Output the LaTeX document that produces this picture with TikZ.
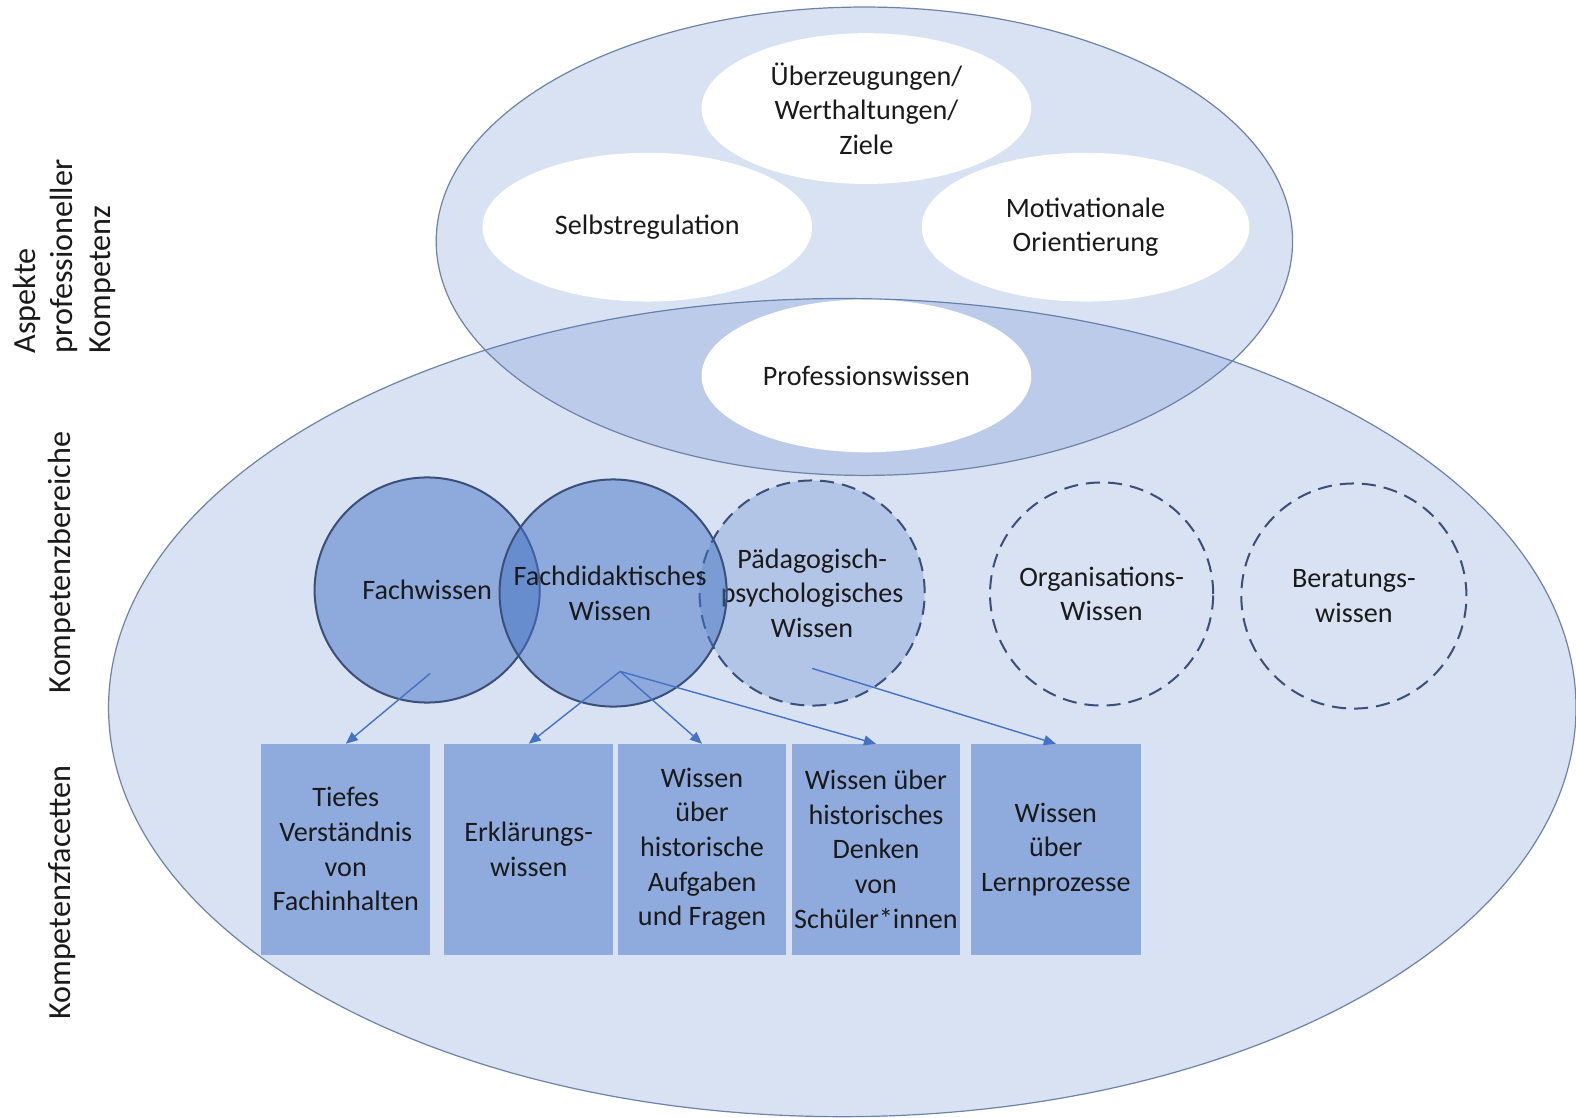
\documentclass[tikz,border=0pt]{standalone}
\usepackage{fontspec}
\setmainfont{Carlito}
\usetikzlibrary{shapes.geometric,arrows.meta}

\definecolor{accent}{HTML}{4472C4}
\definecolor{rimline}{HTML}{6F83A6}
\definecolor{circline}{HTML}{3A5079}
\definecolor{facet}{HTML}{8FAADC}
\definecolor{txt}{HTML}{1A1A1A}

\tikzset{
  bodyfont/.style={font=\fontsize{14}{17.25}\selectfont},
  area/.style={ellipse, draw=rimline, line width=0.6pt, fill=accent,
    fill opacity=0.2, draw opacity=1, inner sep=0pt, outer sep=0pt},
  aspect/.style={ellipse, fill=white, inner sep=0pt, outer sep=0pt,
    align=center, text=txt, bodyfont},
  kcircle/.style={circle, draw=circline, line width=1pt, inner sep=0pt,
    outer sep=0pt, align=center, text=txt, text opacity=1, bodyfont},
  kcircledashed/.style={kcircle, dash pattern=on 7pt off 4pt},
  facetbox/.style={rectangle, fill=facet, inner sep=0pt, outer sep=0pt,
    minimum width=84pt, minimum height=105pt, align=center, text=txt,
    bodyfont},
  rowlabel/.style={rotate=90, anchor=west, align=left, text=txt,
    font=\fontsize{16}{18.5}\selectfont, inner sep=0pt},
  link/.style={draw=accent, line width=0.7pt,
    -{Triangle[length=6pt,width=5pt]}}
}

\begin{document}
\begin{tikzpicture}[x=0.5pt, y=-0.5pt]
\useasboundingbox[fill=white] (0,0) rectangle (1568,1112);

% the two large areas
\node[area, minimum width=730pt, minimum height=407pt] (bereiche) at (838,704) {};
\node[area, minimum width=426pt, minimum height=233pt] (aspekte) at (860,240) {};

% aspects of professional competence
\node[aspect, minimum width=164pt, minimum height=75pt] (ueber) at (862,108)
  {Überzeugungen/\\Werthaltungen/\\Ziele};
\node[aspect, minimum width=164pt, minimum height=74pt] (selbst) at (644,226)
  {Selbstregulation};
\node[aspect, minimum width=163pt, minimum height=74pt] (motiv) at (1080,226)
  {Motivationale\\Orientierung};
\node[aspect, minimum width=164pt, minimum height=76pt] (prof) at (862,374)
  {Professionswissen};

% competence domains
\node[kcircledashed, minimum size=112pt, fill=accent, fill opacity=0.25] (paed) at (808,590)
  {Pädagogisch-\\psychologisches\\Wissen};
\node[kcircle, minimum size=112pt, fill=accent, fill opacity=0.5] (fach) at (425,587)
  {Fachwissen};
\node[kcircle, minimum size=113pt, fill=accent, fill opacity=0.5] (didak) at (610,590)
  {};
\node[text=txt, bodyfont, align=center, inner sep=0pt] (didaktext) at (607,590)
  {Fachdidaktisches\\Wissen};
\node[kcircledashed, minimum size=111pt] (orga) at (1096,591)
  {Organisations-\\Wissen};
\node[kcircledashed, minimum size=112pt] (berat) at (1347,593)
  {Beratungs-\\wissen};

% competence facets
\node[facetbox] (f1) at (344,845) {Tiefes\\Verständnis\\von\\Fachinhalten};
\node[facetbox] (f2) at (526,845) {Erklärungs-\\wissen};
\node[facetbox, minimum width=83.5pt] (f3) at (698.5,845)
  {Wissen\\über\\historische\\Aufgaben\\und Fragen};
\node[facetbox, minimum width=83.5pt] (f4) at (871.5,845)
  {Wissen über\\historisches\\Denken\\von\\Schüler*innen};
\node[facetbox, minimum width=84.5pt] (f5) at (1050.5,845)
  {Wissen\\über\\Lernprozesse};

% arrow origins inside the domain circles
\coordinate (fachsrc) at (428,670);
\coordinate (didaksrc) at (617,668);
\coordinate (paedsrc) at (808,665);

\draw[link] (fachsrc) -- (f1.north);
\draw[link] (didaksrc) -- (f2.north);
\draw[link] (didaksrc) -- (f3.north);
\draw[link] (didaksrc) -- (f4.north);
\draw[link] (paedsrc) -- (f5.north);

% row labels
\node[rowlabel] (lab1) at (64,352) {Aspekte\\professioneller\\Kompetenz};
\node[rowlabel] (lab2) at (62,690) {Kompetenzbereiche};
\node[rowlabel] (lab3) at (62,1015) {Kompetenzfacetten};
\end{tikzpicture}
\end{document}
